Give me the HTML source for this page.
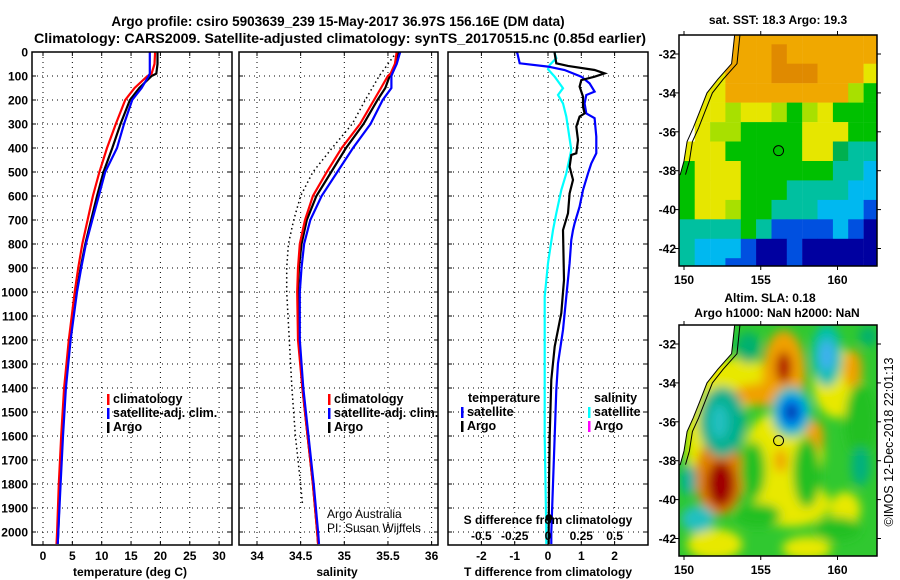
<!DOCTYPE html>
<html><head><meta charset="utf-8"><style>
html,body{margin:0;padding:0;background:#fff;}
svg{display:block;font-family:"Liberation Sans",sans-serif;}
</style></head><body>
<svg id="fig" width="900" height="580" viewBox="0 0 900 580" xmlns="http://www.w3.org/2000/svg"></svg>
<script>
// ---------- DATA ----------
const depths = [0,50,90,100,150,200,300,400,500,600,700,800,900,1000,1200,1400,1600,1800,2000,2050];
const tempArgo = [19.5,19.5,19.3,18.5,16.4,14.8,13.2,11.8,10.3,9.2,8.2,7.2,6.4,5.7,4.6,3.8,3.3,2.9,2.6,2.5];
const tempClim = [19.1,19.0,18.5,17.8,15.6,14.0,12.4,10.9,9.6,8.5,7.6,6.7,6.0,5.4,4.4,3.6,3.1,2.7,2.4,2.3];
const tempSat  = [18.2,18.2,18.2,18.0,16.8,15.2,13.8,12.6,10.6,9.5,8.4,7.3,6.5,5.8,4.7,3.9,3.4,3.0,2.6,2.5];
const salArgo = [35.62,35.59,35.55,35.52,35.47,35.38,35.22,35.02,34.85,34.68,34.57,34.51,34.48,34.47,34.48,34.52,34.58,34.64,34.69,34.70];
const salClim = [35.6,35.58,35.53,35.5,35.42,35.34,35.18,34.97,34.80,34.64,34.55,34.49,34.47,34.46,34.47,34.52,34.58,34.64,34.69,34.70];
const salSat  = [35.64,35.6,35.55,35.54,35.54,35.44,35.3,35.1,34.92,34.74,34.61,34.54,34.51,34.49,34.49,34.53,34.59,34.65,34.70,34.71];
const dotDepths = [0,100,200,300,400,500,600,700,800,900,1000,1200,1400,1600,1800,1880];
const salDotted = [35.6,35.4,35.24,35.09,34.86,34.64,34.5,34.42,34.36,34.34,34.34,34.37,34.40,34.44,34.5,34.52];
const dSatDepths = [0,6,47,61,75,103,131,165,179,214,256,276,353,422,464,506,575,644,714,742,783,880,1019,1158,1297,1408,1600,1800,2000,2050];
const dSatT = [-0.95,-0.92,-0.85,0,0.5,1.0,1.25,1.4,1.15,1.1,1.15,1.4,1.45,1.45,1.3,1.2,1.05,0.95,0.8,0.75,0.7,0.65,0.55,0.45,0.3,0.25,0.2,0.15,0.1,0.1];
const dArgoDepths = [0,6,47,58,75,89,103,117,144,186,228,256,269,311,367,422,429,478,533,589,672,742,950,1088,1227,1366,1600,1800,2000,2050];
const dArgoT = [0.2,0.2,0.25,0.6,1.4,1.7,1.4,1.0,0.95,1.05,1.05,1.1,0.95,0.85,0.9,0.85,0.7,0.65,0.75,0.65,0.6,0.45,0.48,0.4,0.2,0.1,0.05,0.03,0.02,0.02];
const dSalDepths = [0,6,26,54,72,103,151,179,214,269,408,506,575,672,742,880,1019,1158,1300,1600,2000,2050];
const dSatS = [0.05,0.05,0.0625,0.0125,0,0.05,0.1125,0.075,0.1125,0.1375,0.175,0.1375,0.1,0.0625,0.0375,0,-0.025,-0.025,-0.025,-0.025,-0.0125,-0.0125];
const depthTicks = [0,100,200,300,400,500,600,700,800,900,1000,1100,1200,1300,1400,1500,1600,1700,1800,1900,2000];
const tempTicks = [0,5,10,15,20,25,30];
const salTicks = [34,34.5,35,35.5,36];
const salTickLabels = ["34","34.5","35","35.5","36"];
const tdTicks = [-2,-1,0,1,2];
const sdTicks = [-0.5,-0.25,0,0.25,0.5];
const sdTickLabels = ["-0.5","-0.25","0","0.25","0.5"];
const latTicks = [-32,-34,-36,-38,-40,-42];
const lonTicks = [150,155,160];
const argoLon = 156.16, argoLat = -36.97;
const sstRows = [
"WWWOOOOOOOOOO","WWWOOOoOOOOOO","WWYOOOoooOOOY","WYYOOOOOOOOLG","WYYLYYLGLYGGG","WYLLGGGGYYYGG",
"YYYGGGGGYYgTT","GYYYGGGGGGTTC","GYYYGGGTTTTCC","GYYLGGTTTCCCB","TTTTGTBBBBCBN","TCCCBNNBNNNNN","TCCBBNNBNNNNN"];
const slaBlobs = [
[156.5,-37.6,2.6,2.2,"#e8e800"],[153.5,-34,2.5,1.3,"#e8e800"],[160,-34,1.6,1.8,"#e8e800"],[157,-40.2,2.5,1.2,"#e8e800"],
[152,-42.3,1.8,0.8,"#e8e800"],[158,-42.5,1.6,0.6,"#e8e800"],[151,-37,0.9,2.5,"#e8e800"],[160.5,-40.5,1,0.9,"#e8e800"],
[156.5,-33.5,1.4,2.2,"#f0a000"],[155.5,-34.6,2.4,0.6,"#f0a000"],[152.3,-38.8,1.6,2,"#e08000"],
[158.5,-36.8,0.6,0.9,"#f0a000"],[156.3,-38,0.4,0.6,"#f0a000"],[161,-33.3,0.6,1,"#f0a000"],
[156.5,-33.2,0.5,0.8,"#b00000"],[152.4,-39.2,0.9,1.2,"#a00000"],
[158,-38.6,0.9,1.8,"#20c020"],[154.8,-40.8,1.5,0.6,"#20c020"],[160,-41.5,1.5,0.6,"#20c020"],[161.5,-36,1,2,"#20c020"],[154.5,-38.5,0.8,1.5,"#20c020"],
[152.5,-36,1.5,1.8,"#00b090"],[152.3,-36,0.6,0.9,"#20c0c0"],
[159.3,-32.6,1,1.6,"#00c0b0"],[159.3,-32.6,0.5,0.8,"#40b0f0"],
[150.9,-41,1.1,0.7,"#20c0c0"],[150.3,-39,0.5,0.8,"#00b0a0"],[161.5,-38.3,0.6,1,"#00b080"],
[154.2,-32.2,0.8,0.8,"#00b070"],[162,-31.6,0.6,0.5,"#00b070"],
[157,-35.5,1.3,1.3,"#00c0c0"],[157,-35.5,0.85,0.85,"#0080f0"],[157,-35.5,0.4,0.4,"#0020a0"]];
const coastLon = [153.3,153.1,152.2,151.5,151.0,150.6,150.2,150.0,149.75];
const coastLat = [-31,-32.5,-33.3,-34,-35,-35.8,-36.5,-37.5,-38.2];

// ---------- HELPERS ----------
const NS="http://www.w3.org/2000/svg";
const svg=document.getElementById('fig');
function mk(tag,attrs,parent){const e=document.createElementNS(NS,tag);for(const k in attrs)e.setAttribute(k,attrs[k]);(parent||svg).appendChild(e);return e;}
function txt(s,x,y,opts,parent){const o=Object.assign({x:x,y:y,'font-size':12,'font-weight':'bold',fill:'#000'},opts||{});const t=mk('text',o,parent);t.textContent=s;return t;}
const TOP=52,BOT=545;
const yD=d=>TOP+0.24*d;
const xT=t=>43+5.87*t;
const xS=s=>257+87.3*(s-34);
const xTD=t=>548+33.3*t;
const xSD=s=>548+133.2*s;
function pts(xs,ds,fx){return xs.map((v,i)=>fx(v).toFixed(1)+','+yD(ds[i]).toFixed(1)).join(' ');}

function panelFrame(x0,x1,name,vgrid){
  const g=mk('g',{});
  
  
  depthTicks.forEach(d=>{const l=mk('line',{x1:x0,x2:x1,y1:yD(d),y2:yD(d),stroke:'#000','stroke-width':1,'stroke-dasharray':'1,4'},g);
    
    mk('line',{x1:x0,x2:x0+4,y1:yD(d),y2:yD(d),stroke:'#000'},g);mk('line',{x1:x1-4,x2:x1,y1:yD(d),y2:yD(d),stroke:'#000'},g);});
  vgrid.forEach(x=>{const l=mk('line',{x1:x,x2:x,y1:TOP,y2:BOT,stroke:'#000','stroke-width':1,'stroke-dasharray':'1,4'},g);
    
    mk('line',{x1:x,x2:x,y1:BOT,y2:BOT-4,stroke:'#000'},g);mk('line',{x1:x,x2:x,y1:TOP,y2:TOP+4,stroke:'#000'},g);});
  return g;
}
function frameBox(x0,x1,name){const r=mk('rect',{x:x0,y:TOP,width:x1-x0,height:BOT-TOP,fill:'none',stroke:'#000','stroke-width':1.5});
  }
function line(points,color,name,extra){const p=mk('polyline',Object.assign({points:points,fill:'none',stroke:color,'stroke-width':2.2,'stroke-linejoin':'miter'},extra||{}));
  return p;}
function legend(x,y,color,label,name){const b=mk('rect',{x:x,y:y-9,width:2.5,height:11,fill:color});
  
  const t=txt(label,x+6,y,{'font-size':12.5});}

// ---------- TITLES ----------
let t1=txt('Argo profile: csiro 5903639_239 15-May-2017 36.97S 156.16E (DM data)',338,26,{'text-anchor':'middle','font-size':13.5});

let t2=txt('Climatology: CARS2009. Satellite-adjusted climatology: synTS_20170515.nc (0.85d earlier)',340,43,{'text-anchor':'middle','font-size':13.5,textLength:612,lengthAdjust:'spacingAndGlyphs'});


// ---------- PANEL 1: temperature ----------
panelFrame(32,232,'temperature-panel',tempTicks.map(xT));
depthTicks.forEach(d=>{const l=txt(String(d),28,yD(d)+4.5,{'text-anchor':'end'});});
tempTicks.forEach(v=>{const l=txt(String(v),xT(v),560,{'text-anchor':'middle'});});
let a1=txt('temperature (deg C)',130,576,{'text-anchor':'middle'});
line(pts(tempArgo,depths,xT),'#000','temperature-argo-line');
line(pts(tempClim,depths,xT),'#ff0000','temperature-climatology-line');
line(pts(tempSat,depths,xT),'#0000ff','temperature-satellite-line');
frameBox(32,232,'temperature-plot-frame');
legend(107,403,'#ff0000','climatology','legend-climatology');
legend(107,417,'#0000ff','satellite-adj. clim.','legend-satellite');
legend(107,431,'#000','Argo','legend-argo');

// ---------- PANEL 2: salinity ----------
panelFrame(239,438,'salinity-panel',salTicks.map(xS));
salTicks.forEach((v,i)=>{const l=txt(salTickLabels[i],xS(v),560,{'text-anchor':'middle'});});
let a2=txt('salinity',337,576,{'text-anchor':'middle'});
line(pts(salDotted,dotDepths,xS),'#000','salinity-dotted-line',{'stroke-width':1.5,'stroke-dasharray':'1.5,3'});
line(pts(salArgo,depths,xS),'#000','salinity-argo-line');
line(pts(salClim,depths,xS),'#ff0000','salinity-climatology-line');
line(pts(salSat,depths,xS),'#0000ff','salinity-satellite-line');
frameBox(239,438,'salinity-plot-frame');
legend(328,403,'#ff0000','climatology','legend-climatology-2');
legend(328,417,'#0000ff','satellite-adj. clim.','legend-satellite-2');
legend(328,431,'#000','Argo','legend-argo-2');
let c1=txt('Argo Australia',327,518,{'font-weight':'normal','font-size':12});
let c2=txt('PI: Susan Wijffels',327,532,{'font-weight':'normal','font-size':12});

// ---------- PANEL 3: differences ----------
panelFrame(448,648,'difference-panel',tdTicks.map(xTD));
tdTicks.forEach(v=>{const l=txt(String(v),xTD(v),560,{'text-anchor':'middle'});});
let a3=txt('T difference from climatology',548,576,{'text-anchor':'middle'});
line(pts(dSatS,dSalDepths,xSD),'#00ffff','salinity-difference-satellite-line');
line(pts(dSatT,dSatDepths,xTD),'#0000ff','temperature-difference-satellite-line');
line(pts(dArgoT,dArgoDepths,xTD),'#000','temperature-difference-argo-line');
let dot=mk('circle',{cx:xTD(dArgoT[dArgoT.length-3]),cy:yD(1940),r:3.5,fill:'#000'});

sdTicks.forEach((v,i)=>{const l=txt(sdTickLabels[i],xSD(v),540,{'text-anchor':'middle'});});
let a4=txt('S difference from climatology',548,524,{'text-anchor':'middle'});
frameBox(448,648,'difference-plot-frame');
let lh1=txt('temperature',468,402,{'font-size':12.5});
legend(461,416,'#0000ff','satellite','legend-t-satellite');
legend(461,430,'#000','Argo','legend-t-argo');
let lh2=txt('salinity',594,402,{'font-size':12.5});
legend(588,416,'#00ffff','satellite','legend-s-satellite');
legend(588,430,'#ff00ff','Argo','legend-s-argo');

// ---------- MAPS ----------
const MX0=679,MX1=877;
const mx=lon=>684+15.35*(lon-150);
const colors={W:'#ffffff',O:'#f0a800',o:'#e08a00',Y:'#e6e600',L:'#a8e000',G:'#00c000',g:'#00b050',T:'#00c0a0',C:'#00b8f0',B:'#0050e0',N:'#0000a0'};
function mapFrame(off,name){
  const my=lat=>54+off+19.45*(-32-lat);
  const g=mk('g',{});
  const cid='clip'+off;const cp=mk('clipPath',{id:cid},g);mk('rect',{x:MX0,y:35+off,width:MX1-MX0,height:231},cp);
  const inner=mk('g',{'clip-path':'url(#'+cid+')'},g);
  return {g:g,inner:inner,my:my};
}
function mapDecor(m,off,name){
  const my=m.my,g=m.g;
  let lp='M'+MX0+','+(35+off)+' ';coastLon.forEach((lo,i)=>{lp+='L'+mx(lo).toFixed(1)+','+my(coastLat[i]).toFixed(1)+' ';});
  lp+='L'+MX0+','+my(-38.2).toFixed(1)+' Z';
  const land=mk('path',{d:lp,fill:'#fff',stroke:'#000','stroke-width':1},m.inner);
  const c2=coastLon.map((lo,i)=>mx(lo+0.35).toFixed(1)+','+my(coastLat[i]).toFixed(1)).join(' ');
  const iso=mk('polyline',{points:c2,fill:'none',stroke:'#000','stroke-width':1},m.inner);
  const f=mk('rect',{x:MX0,y:35+off,width:MX1-MX0,height:231,fill:'none',stroke:'#000','stroke-width':1.5},g);
  const mk1=mk('circle',{cx:mx(argoLon),cy:my(argoLat),r:5,fill:'none',stroke:'#000','stroke-width':1},g);
  latTicks.forEach(la=>{mk('line',{x1:MX0-4,x2:MX0,y1:my(la),y2:my(la),stroke:'#000'},g);mk('line',{x1:MX1,x2:MX1+4,y1:my(la),y2:my(la),stroke:'#000'},g);
    const l=txt(String(la),676,my(la)+4.5,{'text-anchor':'end'},g);});
  lonTicks.forEach(lo=>{mk('line',{x1:mx(lo),x2:mx(lo),y1:35+off,y2:31+off,stroke:'#000'},g);mk('line',{x1:mx(lo),x2:mx(lo),y1:266+off,y2:270+off,stroke:'#000'},g);
    const l=txt(String(lo),mx(lo),284+off,{'text-anchor':'middle'},g);});
}
// SST map
const m1=mapFrame(0,'sst-map');
sstRows.forEach((row,r)=>{[...row].forEach((ch,c)=>{const lo=149.7+c,la=-30.5-r;
  const cell=mk('rect',{x:mx(lo).toFixed(1),y:m1.my(la).toFixed(1),width:15.6,height:19.7,fill:colors[ch]},m1.inner);
  });});
mapDecor(m1,0,'sst-map');
let mt1=txt('sat. SST: 18.3 Argo: 19.3',778,24,{'text-anchor':'middle'});
// SLA map
const m2=mapFrame(290,'sla-map');
const flt=mk('filter',{id:'blur',x:'-50%',y:'-50%',width:'200%',height:'200%'});mk('feGaussianBlur',{stdDeviation:5},flt);
mk('rect',{x:MX0,y:325,width:198,height:231,fill:'#30c830'},m2.inner);
const bg=mk('g',{filter:'url(#blur)'},m2.inner);
slaBlobs.forEach(b=>{const e=mk('ellipse',{cx:mx(b[0]),cy:m2.my(b[1]),rx:b[2]*15.35,ry:b[3]*19.45,fill:b[4]},bg);
  });
mapDecor(m2,290,'sla-map');
let mt2=txt('Altim. SLA: 0.18',770,302,{'text-anchor':'middle'});
let mt3=txt('Argo h1000: NaN h2000: NaN',777,317,{'text-anchor':'middle'});
let cp=txt('©IMOS 12-Dec-2018 22:01:13',0,0,{'text-anchor':'middle','font-weight':'normal','font-size':12.5,transform:'translate(893,442) rotate(-90)'});

</script>
</body></html>
